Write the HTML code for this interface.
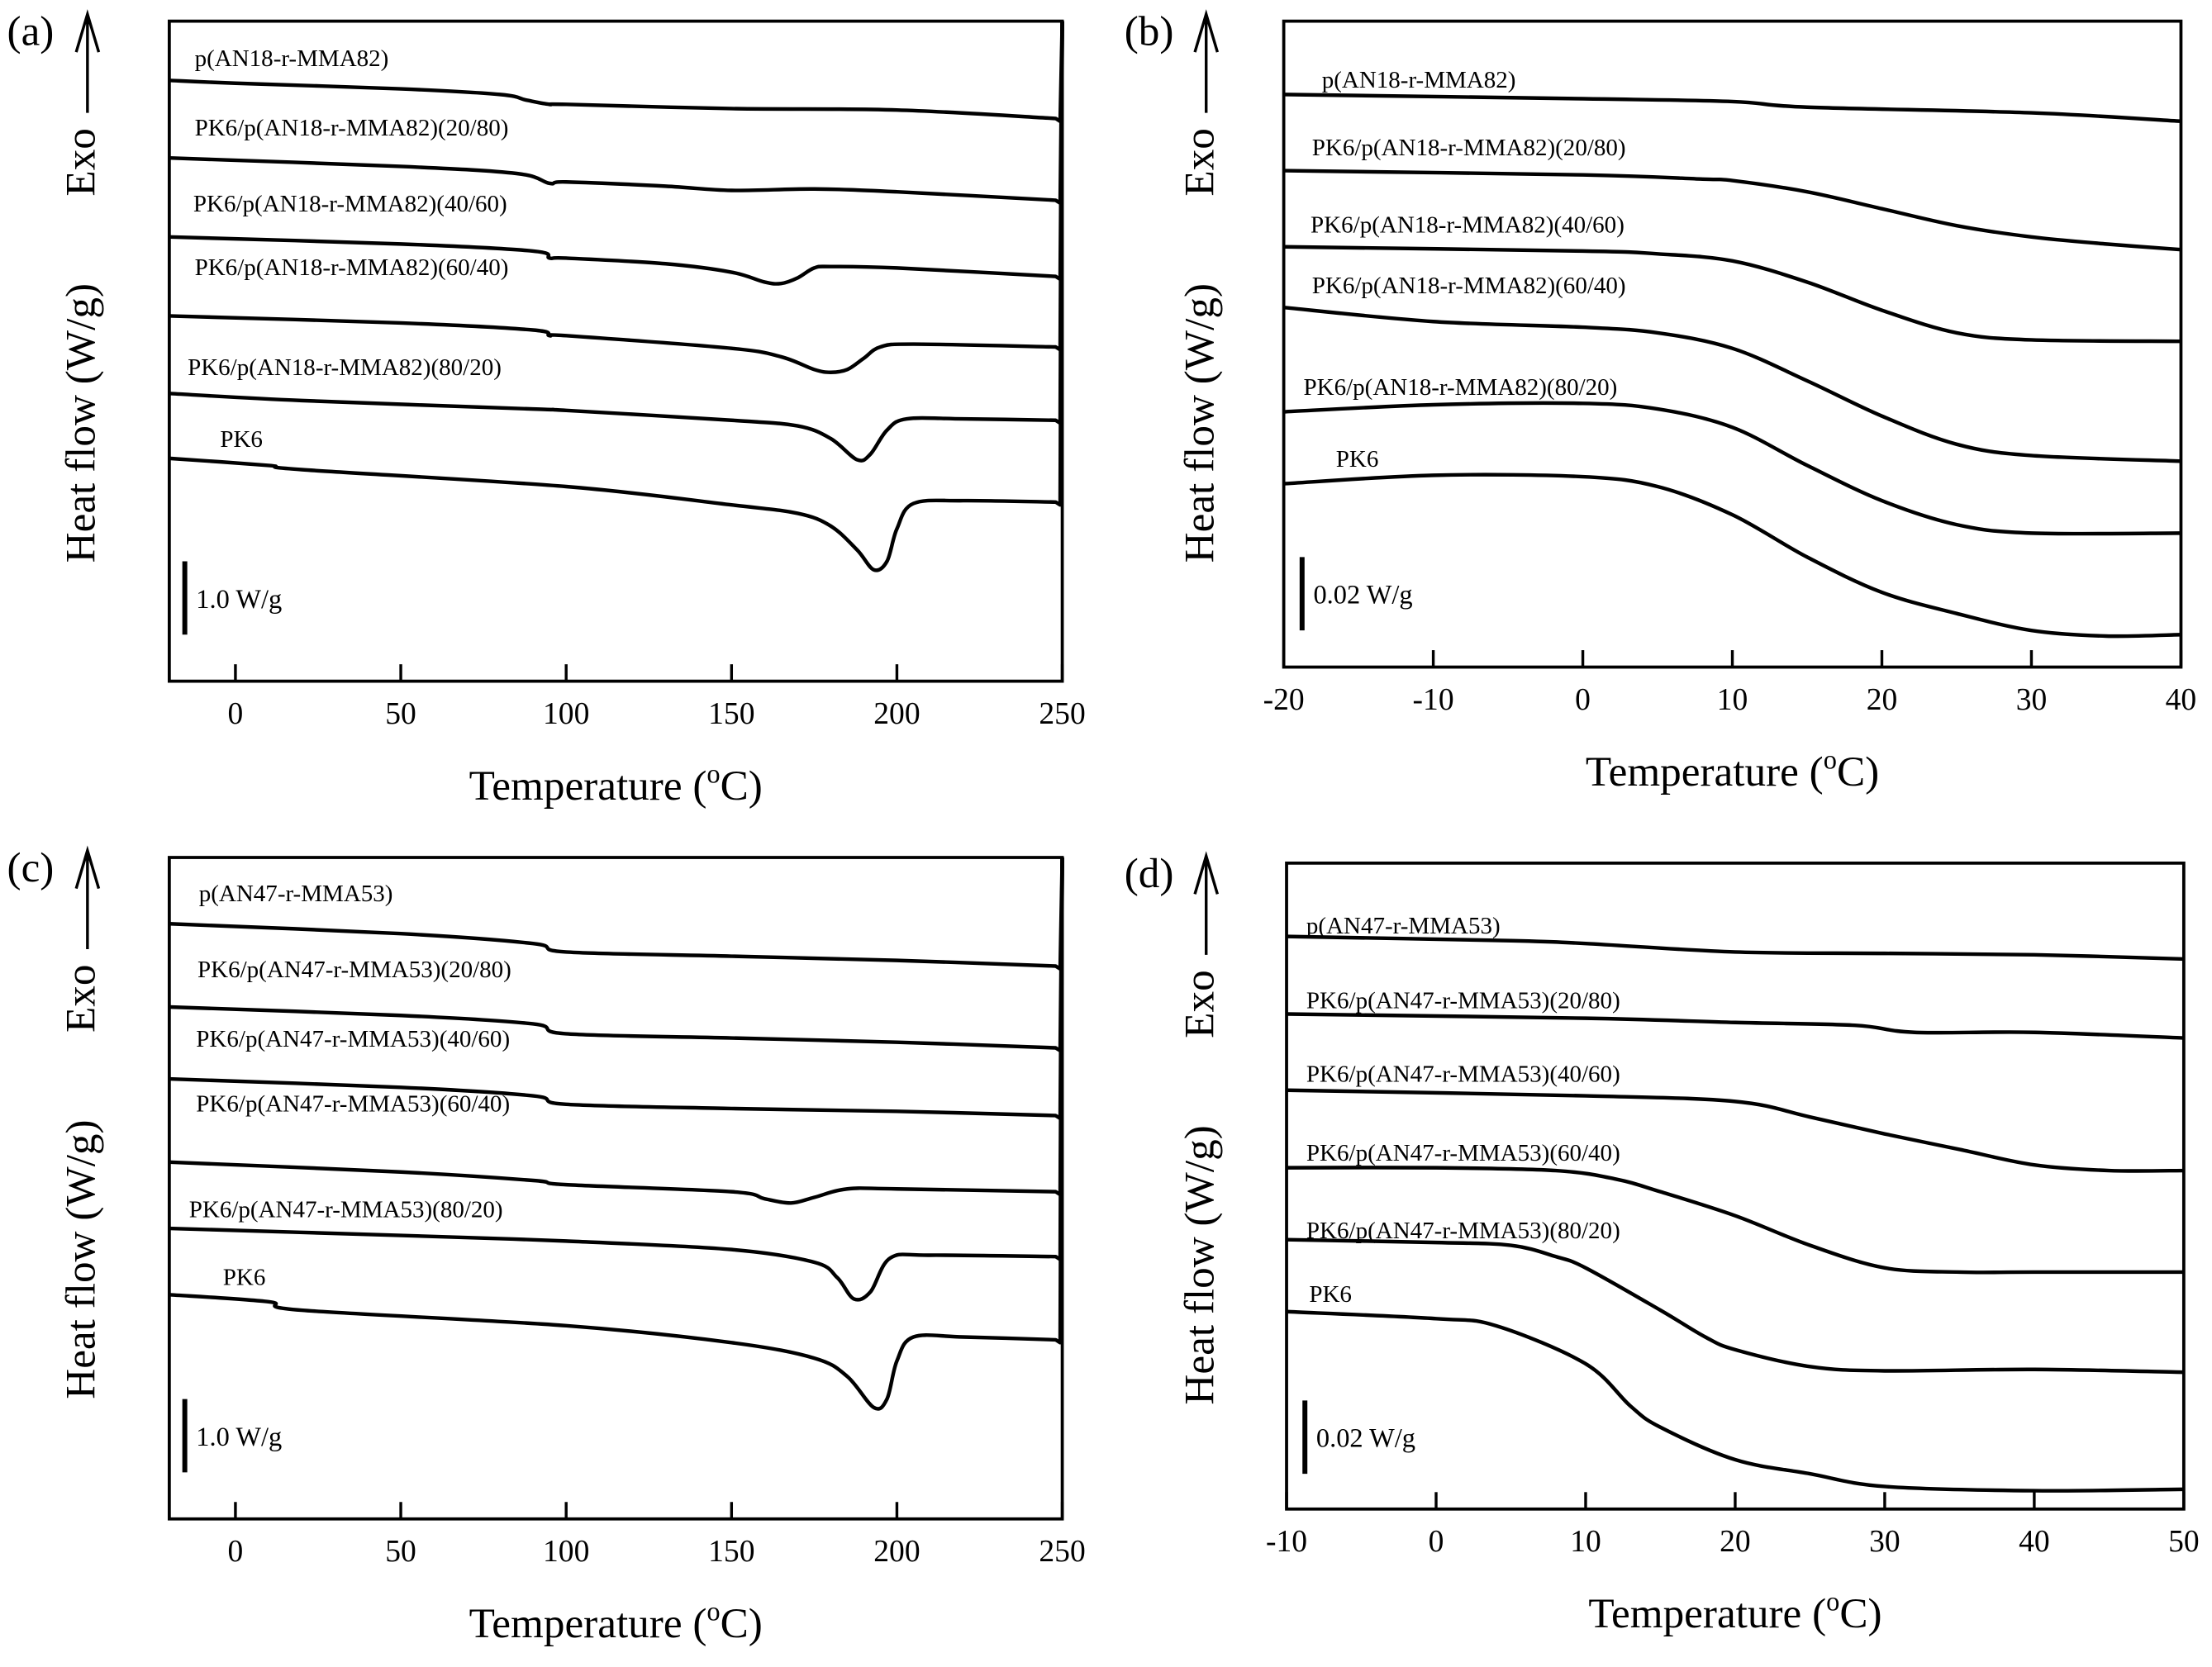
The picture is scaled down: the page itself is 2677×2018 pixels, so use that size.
<!DOCTYPE html>
<html><head><meta charset="utf-8"><style>
html,body{margin:0;padding:0;background:#fff}
svg{display:block}
text{font-family:"Liberation Serif",serif;fill:#000}
</style></head><body>
<svg id="fig" width="2677" height="2018" viewBox="0 0 1568 1182" xmlns="http://www.w3.org/2000/svg"></svg>
<script>
// ---- Data (heat flow in a.u., offset traces) ----
const tempsA1=[-20,0,50,80,88,95,100,150,200,248,250];
const valsA1=[426,424,420,416,412,409,409,406,405,399,468];
const tempsA2=[-20,50,85,95,100,130,150,175,200,248,250];
const valsA2=[371,365,360,353,354,351,348,349,347,341,468];
const tempsA3=[-20,50,90,95,100,130,150,160,165,170,175,180,200,248,250];
const valsA3=[315,310,305,300,300,296,290,283,282,286,293,294,293,287,468];
const tempsA4=[-20,50,90,95,100,150,165,175,180,185,190,195,205,248,250];
const valsA4=[259,254,249,245,245,236,230,221,219,221,229,237,239,237,468];
const tempsA5=[-20,20,90,100,150,170,180,188,192,197,203,220,248,250];
const valsA5=[204,199,193,192,185,181,172,157,161,178,186,186,185,468];
const tempsA6=[-20,10,20,100,150,170,180,188,193,197,200,205,220,248,250];
const valsA6=[158,153,150,138,125,119,110,93,79,85,108,126,128,127,468];

const tempsC1=[-20,50,90,100,150,200,248,250];
const valsC1=[422,415,408,402,399,396,392,469];
const tempsC2=[-20,50,90,100,150,200,248,250];
const valsC2=[363,357,351,344,341,338,334,469];
const tempsC3=[-20,50,90,100,150,200,248,250];
const valsC3=[312,306,300,294,291,289,286,469];
const tempsC4=[-20,50,90,100,150,160,168,175,185,200,248,250];
const valsC4=[253,246,240,237,232,227,224,228,234,234,232,469];
const tempsC5=[-20,50,100,150,175,182,187,192,198,210,248,250];
const valsC5=[206,201,197,191,182,171,156,161,185,187,186,469];
const tempsC6=[-20,10,20,100,150,175,185,193,197,200,205,220,248,250];
const valsC6=[159,154,148,137,125,114,101,79,85,112,129,129,127,469];

const tempsB1=[-20,0,10,15,30,40];
const valsB1=[406,403,401,397,393,387];
const tempsB2=[-20,0,8,10,15,20,25,30,35,40];
const valsB2=[352,349,346,345,337,325,313,305,300,296];
const tempsB3=[-20,0,5,10,15,20,25,30,40];
const valsB3=[298,295,293,288,273,253,237,232,231];
const tempsB4=[-20,-10,0,5,10,15,20,25,30,40];
const valsB4=[255,245,241,237,226,203,178,158,150,146];
const tempsB5=[-20,-10,0,5,10,15,20,25,30,40];
const valsB5=[181,186,187,183,170,143,118,101,95,95];
const tempsB6=[-20,-10,0,5,10,15,20,25,30,35,40];
const valsB6=[130,136,135,128,108,78,53,38,26,22,23];

const tempsD1=[-10,5,10,20,30,40,50];
const valsD1=[406,403,401,395,394,393,390];
const tempsD2=[-10,10,20,28,32,40,50];
const valsD2=[351,348,345,343,338,338,334];
const tempsD3=[-10,10,20,25,30,35,40,45,50];
const valsD3=[297,293,289,278,266,255,244,240,240];
const tempsD4=[-10,0,8,12,15,20,25,30,35,40,50];
const valsD4=[242,242,240,234,225,208,187,171,168,168,168];
const tempsD5=[-10,0,5,8,10,15,18,20,25,30,40,50];
const valsD5=[191,189,187,179,171,141,122,113,101,98,99,97];
const tempsD6=[-10,0,4,10,13,15,20,25,30,40,50];
const valsD6=[140,135,130,103,73,58,35,25,16,13,14];

const ticksAC=[0,50,100,150,200,250];
const ticksB=[-20,-10,0,10,20,30,40];
const ticksD=[-10,0,10,20,30,40,50];

const namesA=["p(AN18-r-MMA82)","PK6/p(AN18-r-MMA82)(20/80)","PK6/p(AN18-r-MMA82)(40/60)","PK6/p(AN18-r-MMA82)(60/40)","PK6/p(AN18-r-MMA82)(80/20)","PK6"];
const namesC=["p(AN47-r-MMA53)","PK6/p(AN47-r-MMA53)(20/80)","PK6/p(AN47-r-MMA53)(40/60)","PK6/p(AN47-r-MMA53)(60/40)","PK6/p(AN47-r-MMA53)(80/20)","PK6"];

const NS="http://www.w3.org/2000/svg";
const svg=document.getElementById('fig');
function mk(tag,attrs,parent){const e=document.createElementNS(NS,tag);for(const k in attrs)e.setAttribute(k,attrs[k]);(parent||svg).appendChild(e);return e;}
function txt(s,x,y,size,parent,anchor){const t=mk('text',{x:x,y:y,'font-size':size,'text-anchor':anchor||'start'},parent);t.textContent=s;return t;}

function smoothPath(pts){
  let d=`M${pts[0][0]},${pts[0][1]}`;
  for(let i=0;i<pts.length-1;i++){
    const p0=pts[Math.max(0,i-1)],p1=pts[i],p2=pts[i+1],p3=pts[Math.min(pts.length-1,i+2)];
    const c1x=p1[0]+(p2[0]-p0[0])/6,c1y=p1[1]+(p2[1]-p0[1])/6;
    const c2x=p2[0]-(p3[0]-p1[0])/6,c2y=p2[1]-(p3[1]-p1[1])/6;
    d+=` C${c1x},${c1y} ${c2x},${c2y} ${p2[0]},${p2[1]}`;
  }
  return d;
}

function panel(cfg){
  const g=mk('g',{});
  
  
  const {x0,x1,y0,y1,tmin,tmax}=cfg;
  const xs=t=>x0+(t-tmin)/(tmax-tmin)*(x1-x0);
  const ys=v=>y1-v;
  cfg.series.forEach((s,i)=>{
    const pts=s.t.map((t,j)=>[xs(t),ys(s.v[j])]);
    let d;
    if(s.t[s.t.length-1]===tmax && cfg.spike){
      const last=pts.pop();
      const prev=pts[pts.length-1];
      d=smoothPath(pts)+` L${last[0]-1.5},${prev[1]+2} L${last[0]},${last[1]}`;
    } else d=smoothPath(pts);
    const p=mk('path',{d:d,fill:'none',stroke:'#000','stroke-width':2.6,'stroke-linejoin':'round'},g);
    
    
  });
  const box=mk('rect',{x:x0,y:y0,width:x1-x0,height:y1-y0,fill:'none',stroke:'#000','stroke-width':2.2},g);
  
  
  cfg.ticks.forEach(t=>{
    const X=xs(t);
    const l=mk('line',{x1:X,x2:X,y1:y1,y2:y1-12,stroke:'#000','stroke-width':2},g);
    
    
    const tl=txt(String(t),X,y1+30,22,g,'middle');
    
    
  });
  const xt=mk('text',{x:(x0+x1)/2,y:y1+84,'font-size':30,'text-anchor':'middle'},g);
  xt.innerHTML='Temperature (<tspan dy="-12" font-size="19">o</tspan><tspan dy="12">C)</tspan>';
  
  
  const ax=cfg.ax;
  const yt=mk('text',{transform:`translate(${ax+10},${y0+285}) rotate(-90)`,'font-size':30,'text-anchor':'middle'},g);
  yt.textContent='Heat flow (W/g)';
  
  
  const ex=mk('text',{transform:`translate(${ax+10},${y0+100}) rotate(-90)`,'font-size':30,'text-anchor':'middle'},g);
  ex.textContent='Exo';
  
  
  const ar=mk('path',{d:`M${ax+5},${y0+65} L${ax+5},${y0-5} M${ax-3},${y0+22} L${ax+5},${y0-5} L${ax+13},${y0+22}`,fill:'none',stroke:'#000','stroke-width':2},g);
  
  
  const pl=txt(cfg.label,cfg.lx,y0+17,30,g);
  
  
  const sb=mk('line',{x1:cfg.sbx,x2:cfg.sbx,y1:cfg.sby,y2:cfg.sby+52,stroke:'#000','stroke-width':3.5},g);
  
  
  const st=txt(cfg.sbText,cfg.sbx+8,cfg.sby+33,19,g);
  
  
  cfg.labels.forEach(L=>{
    const e=txt(L[0],L[1],L[2],17,g);
    
    
  });
}

panel({id:'a',x0:120,x1:753,y0:15,y1:483,tmin:-20,tmax:250,ticks:ticksAC,ax:57,lx:5,label:'(a)',spike:true,
  sbx:131,sby:398,sbText:'1.0 W/g',
  series:[{t:tempsA1,v:valsA1},{t:tempsA2,v:valsA2},{t:tempsA3,v:valsA3},{t:tempsA4,v:valsA4},{t:tempsA5,v:valsA5},{t:tempsA6,v:valsA6}],
  labels:[[namesA[0],138,47],[namesA[1],138,96],[namesA[2],137,150],[namesA[3],138,195],[namesA[4],133,266],[namesA[5],156,317]]});
panel({id:'b',x0:910,x1:1546,y0:15,y1:473,tmin:-20,tmax:40,ticks:ticksB,ax:850,lx:797,label:'(b)',spike:false,
  sbx:923,sby:395,sbText:'0.02 W/g',
  series:[{t:tempsB1,v:valsB1},{t:tempsB2,v:valsB2},{t:tempsB3,v:valsB3},{t:tempsB4,v:valsB4},{t:tempsB5,v:valsB5},{t:tempsB6,v:valsB6}],
  labels:[[namesA[0],937,62],[namesA[1],930,110],[namesA[2],929,165],[namesA[3],930,208],[namesA[4],924,280],[namesA[5],947,331]]});
panel({id:'c',x0:120,x1:753,y0:608,y1:1077,tmin:-20,tmax:250,ticks:ticksAC,ax:57,lx:5,label:'(c)',spike:true,
  sbx:131,sby:992,sbText:'1.0 W/g',
  series:[{t:tempsC1,v:valsC1},{t:tempsC2,v:valsC2},{t:tempsC3,v:valsC3},{t:tempsC4,v:valsC4},{t:tempsC5,v:valsC5},{t:tempsC6,v:valsC6}],
  labels:[[namesC[0],141,639],[namesC[1],140,693],[namesC[2],139,742],[namesC[3],139,788],[namesC[4],134,863],[namesC[5],158,911]]});
panel({id:'d',x0:912,x1:1548,y0:612,y1:1070,tmin:-10,tmax:50,ticks:ticksD,ax:850,lx:797,label:'(d)',spike:false,
  sbx:925,sby:993,sbText:'0.02 W/g',
  series:[{t:tempsD1,v:valsD1},{t:tempsD2,v:valsD2},{t:tempsD3,v:valsD3},{t:tempsD4,v:valsD4},{t:tempsD5,v:valsD5},{t:tempsD6,v:valsD6}],
  labels:[[namesC[0],926,662],[namesC[1],926,715],[namesC[2],926,767],[namesC[3],926,823],[namesC[4],926,878],[namesC[5],928,923]]});
</script>
</body></html>
